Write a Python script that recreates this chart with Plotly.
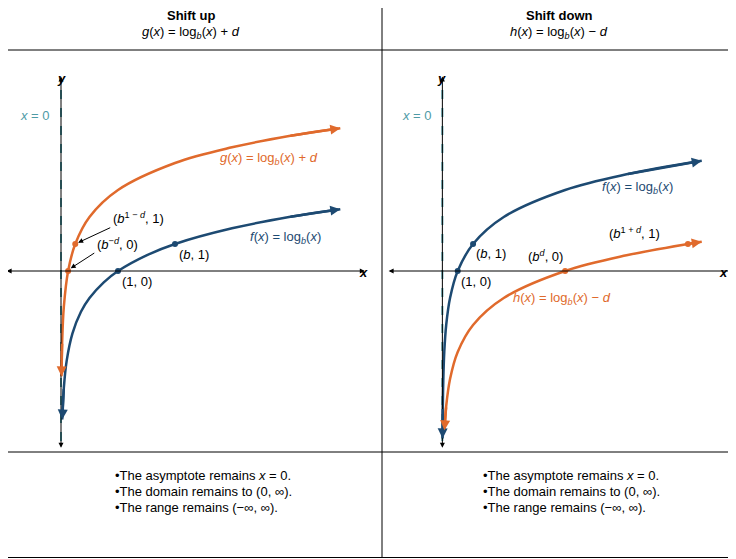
import plotly.graph_objects as go

# the page body adds an 8px margin, so the figure is drawn smaller and shifted
W, H = 736, 559
OFF = 8
FW, FH = W - OFF, H - OFF
BLUE = "#1d4a72"
ORANGE = "#e06a2c"
TEAL = "#4e9ba6"
FONT = "Liberation Sans"

# left panel: shift up, d = 3, b = 2
f1_x = [0.022, 0.05, 0.1, 0.2, 0.35, 0.5, 0.75, 1, 1.5, 2, 3, 4, 4.9]
f1_y = [-5.5, -4.32, -3.32, -2.32, -1.51, -1.0, -0.42, 0, 0.58, 1, 1.58, 2, 2.29]
g_x = [0.0085, 0.02, 0.05, 0.125, 0.25, 0.5, 1, 2, 3, 4, 4.9]
g_y = [-3.9, -2.64, -1.32, 0, 1, 2, 3, 4, 4.58, 5, 5.29]
f1_pts_x, f1_pts_y = [1, 2], [0, 1]
g_pts_x, g_pts_y = [0.125, 0.25], [0, 1]

# right panel: shift down, d = 3, b = 2
f2_x = [0.014, 0.03, 0.06, 0.125, 0.25, 0.5, 1, 2, 4, 8, 12, 16.9]
f2_y = [-6.2, -5.06, -4.06, -3, -2, -1, 0, 1, 2, 3, 3.58, 4.08]
h_x = [0.134, 0.25, 0.5, 1, 2, 4, 8, 12, 16, 16.9]
h_y = [-5.9, -5, -4, -3, -2, -1, 0, 0.58, 1, 1.08]
f2_pts_x, f2_pts_y = [1, 2], [0, 1]
h_pts_x, h_pts_y = [8, 16], [0, 1]

bullets = ["•The asymptote remains <i>x</i> = 0.",
           "•The domain remains to (0, ∞).",
           "•The range remains (−∞, ∞)."]


def px(x, y):
    return (x - OFF) / FW, 1 - (y - OFF) / FH


fig = go.Figure()


def curve(xs, ys, color, xa, ya):
    fig.add_trace(go.Scatter(x=xs, y=ys, mode="lines", line=dict(color=color, width=2.5, shape="spline"),
                             xaxis=xa, yaxis=ya, showlegend=False, hoverinfo="skip"))


def pts(xs, ys, color, xa, ya):
    fig.add_trace(go.Scatter(x=xs, y=ys, mode="markers", marker=dict(color=color, size=6),
                             xaxis=xa, yaxis=ya, showlegend=False, hoverinfo="skip"))


def arrow(x, y, ax, ay, color, xa, ya, side="end", width=1.2, size=1.2):
    fig.add_annotation(x=x, y=y, ax=ax, ay=ay, xref=xa, yref=ya, axref=xa, ayref=ya, text="",
                       showarrow=True, arrowhead=2, arrowsize=size, arrowwidth=width,
                       arrowcolor=color, arrowside=side)


for xa, ya, xmin, xmax in [("x", "y", -0.98, 5.33), ("x2", "y2", -3.6, 19.6)]:
    # x = 0 asymptote
    fig.add_trace(go.Scatter(x=[0, 0], y=[-6.3, 7.0], mode="lines", line=dict(color=TEAL, width=2, dash="dash"),
                             xaxis=xa, yaxis=ya, showlegend=False, hoverinfo="skip"))
    arrow(xmax, 0, xmin, 0, "black", xa, ya, side="end+start", width=1, size=1)
    arrow(0, 7.2, 0, -6.6, "black", xa, ya, side="end+start", width=1, size=1)

curve(f1_x, f1_y, BLUE, "x", "y")
curve(g_x, g_y, ORANGE, "x", "y")
curve(f2_x, f2_y, BLUE, "x2", "y2")
curve(h_x, h_y, ORANGE, "x2", "y2")
pts(f1_pts_x, f1_pts_y, BLUE, "x", "y")
pts(g_pts_x, g_pts_y, ORANGE, "x", "y")
pts(f2_pts_x, f2_pts_y, BLUE, "x2", "y2")
pts(h_pts_x, h_pts_y, ORANGE, "x2", "y2")

# curve end arrows
arrow(f1_x[-1], f1_y[-1], f1_x[-2], f1_y[-2], BLUE, "x", "y", width=2.5, size=0.8)
arrow(f1_x[0], f1_y[0], f1_x[1], f1_y[1], BLUE, "x", "y", width=2.5, size=0.8)
arrow(g_x[-1], g_y[-1], g_x[-2], g_y[-2], ORANGE, "x", "y", width=2.5, size=0.8)
arrow(g_x[0], g_y[0], g_x[1], g_y[1], ORANGE, "x", "y", width=2.5, size=0.8)
arrow(f2_x[-1], f2_y[-1], f2_x[-2], f2_y[-2], BLUE, "x2", "y2", width=2.5, size=0.8)
arrow(f2_x[0], f2_y[0], f2_x[1], f2_y[1], BLUE, "x2", "y2", width=2.5, size=0.8)
arrow(h_x[-1], h_y[-1], h_x[-2], h_y[-2], ORANGE, "x2", "y2", width=2.5, size=0.8)
arrow(h_x[0], h_y[0], h_x[1], h_y[1], ORANGE, "x2", "y2", width=2.5, size=0.8)

# label pointer arrows (left panel)
arrow(0.3, 1.05, 0.89, 1.63, "black", "x", "y", width=1, size=1)
arrow(0.17, 0.1, 0.61, 0.70, "black", "x", "y", width=1, size=1)


def label(x, y, text, color="black", size=13, anchor="left"):
    X, Y = px(x, y)
    fig.add_annotation(x=X, y=Y, xref="paper", yref="paper", text=text, showarrow=False,
                       xanchor=anchor, yanchor="middle", font=dict(family=FONT, size=size, color=color))


# titles
label(191, 16, "<b>Shift up</b>", anchor="center")
label(191, 32, "<i>g</i>(<i>x</i>) = log<sub><i>b</i></sub>(<i>x</i>) + <i>d</i>", anchor="center")
label(559, 16, "<b>Shift down</b>", anchor="center")
label(559, 32, "<i>h</i>(<i>x</i>) = log<sub><i>b</i></sub>(<i>x</i>) − <i>d</i>", anchor="center")

# left panel labels
label(61, 78, "<b><i>y</i></b>", anchor="center")
label(363, 272, "<b><i>x</i></b>", anchor="center")
label(18, 115, "<i>x</i> = 0", TEAL)
label(218, 158, "<i>g</i>(<i>x</i>) = log<sub><i>b</i></sub>(<i>x</i>) + <i>d</i>", ORANGE)
label(248, 237, "<i>f</i>(<i>x</i>) = log<sub><i>b</i></sub>(<i>x</i>)", BLUE)
label(111, 218, "(<i>b</i><sup>1 − <i>d</i></sup>, 1)")
label(95, 244, "(<i>b</i><sup>−<i>d</i></sup>, 0)")
label(120, 282, "(1, 0)")
label(177, 254, "(<i>b</i>, 1)")

# right panel labels
label(441, 78, "<b><i>y</i></b>", anchor="center")
label(723, 272, "<b><i>x</i></b>", anchor="center")
label(400, 115, "<i>x</i> = 0", TEAL)
label(600, 188, "<i>f</i>(<i>x</i>) = log<sub><i>b</i></sub>(<i>x</i>)", BLUE)
label(474, 253, "(<i>b</i>, 1)")
label(459, 282, "(1, 0)")
label(526, 256, "(<i>b</i><sup><i>d</i></sup>, 0)")
label(607, 233, "(<i>b</i><sup>1 + <i>d</i></sup>, 1)")
label(511, 298, "<i>h</i>(<i>x</i>) = log<sub><i>b</i></sub>(<i>x</i>) − <i>d</i>", ORANGE)

# bottom notes
for cx in [191, 559]:
    for i, t in enumerate(bullets):
        label(cx - 78, 475 + 16 * i, t)

# frame lines
shapes = []
for x0, y0, x1, y1 in [(382, 8, 382, 558), (8, 50, 735, 50), (8, 452, 735, 452),
                       (734.5, 8, 734.5, 558), (8, 557.5, 735, 557.5)]:
    X0, Y0 = px(x0, y0)
    X1, Y1 = px(x1, y1)
    shapes.append(dict(type="line", xref="paper", yref="paper", x0=X0, y0=Y0, x1=X1, y1=Y1,
                       line=dict(color="black", width=1)))

ax_style = dict(visible=False, showgrid=False, zeroline=False)
xl0, yt0 = px(382, 50)
xr, yb = px(736, 452)
xl, _ = px(8, 0)
fig.update_layout(
    width=FW, height=FH, margin=dict(l=0, r=0, t=0, b=0),
    paper_bgcolor="white", plot_bgcolor="rgba(0,0,0,0)",
    shapes=shapes,
    xaxis=dict(domain=[0, xl0], range=[-53 / 57, 321 / 57], **ax_style),
    yaxis=dict(domain=[yb, yt0], range=[-181 / 27, 221 / 27], **ax_style),
    xaxis2=dict(domain=[xl0, 1], range=[-59 / 15, 287 / 15], **ax_style),
    yaxis2=dict(domain=[yb, yt0], range=[-181 / 27, 221 / 27], anchor="x2", **ax_style),
)

fig.write_html("out.html")
